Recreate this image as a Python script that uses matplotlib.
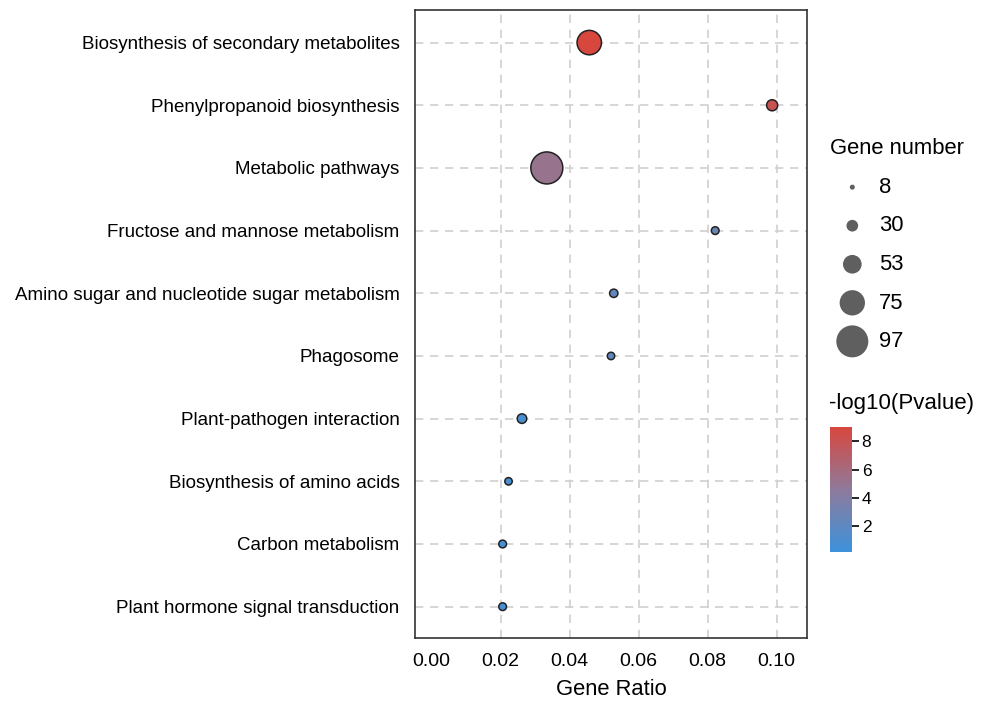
import matplotlib
matplotlib.use("Agg")
import matplotlib.pyplot as plt
from matplotlib.colors import LinearSegmentedColormap, Normalize
import numpy as np

plt.rcParams["font.family"] = ["Liberation Sans", "DejaVu Sans"]

# KEGG enrichment terms (top to bottom)
pathways = [
    "Biosynthesis of secondary metabolites",
    "Phenylpropanoid biosynthesis",
    "Metabolic pathways",
    "Fructose and mannose metabolism",
    "Amino sugar and nucleotide sugar metabolism",
    "Phagosome",
    "Plant-pathogen interaction",
    "Biosynthesis of amino acids",
    "Carbon metabolism",
    "Plant hormone signal transduction",
]
gene_ratio = [0.0457, 0.0987, 0.0334, 0.0822, 0.0528, 0.0520, 0.0262, 0.0223, 0.0206, 0.0206]
gene_number = [72, 28, 97, 17, 19, 16, 23, 16, 17, 17]
neg_log_p = [9.0, 8.0, 5.2, 2.6, 2.3, 2.1, 1.0, 1.0, 0.9, 0.9]

legend_sizes = [8, 30, 53, 75, 97]
x_ticks = [0.00, 0.02, 0.04, 0.06, 0.08, 0.10]
cbar_ticks = [2, 4, 6, 8]


def size_to_area(n):
    # diameter grows linearly from ~5px (n=8) to ~32px (n=97)
    d_px = 5 + (np.asarray(n) - 8) * 27 / 89
    d_pt = d_px * 0.72
    return d_pt ** 2


cmap = LinearSegmentedColormap.from_list("bluered", ["#3C92DC", "#8E7A9B", "#D8473E"])
norm = Normalize(vmin=0.2, vmax=9.0)

fig = plt.figure(figsize=(9.83, 7.03), dpi=100)
ax = fig.add_axes([415 / 983, 1 - 638 / 703, 392 / 983, 628 / 703])

y = np.arange(len(pathways))
ax.scatter(
    gene_ratio,
    y,
    s=size_to_area(gene_number),
    c=neg_log_p,
    cmap=cmap,
    norm=norm,
    edgecolors="#222222",
    linewidths=1.1,
    zorder=3,
)

ax.set_yticks(y)
ax.set_yticklabels(pathways, fontsize=13.5)
ax.set_ylim(len(pathways) - 0.5, -0.52)
ax.set_xticks(x_ticks)
ax.set_xticklabels([f"{t:.2f}" for t in x_ticks], fontsize=14)
ax.set_xlim(-0.0048, 0.1088)
ax.set_xlabel("Gene Ratio", fontsize=15.8, labelpad=6)
ax.tick_params(axis="y", length=0, pad=11)
ax.tick_params(axis="x", length=0, pad=11)
ax.grid(True, color="#d0d0d0", linestyle=(0, (5, 4)), linewidth=1.2, zorder=0)
ax.get_xgridlines()[0].set_visible(False)
ax.set_axisbelow(True)
for sp in ax.spines.values():
    sp.set_color("#333333")
    sp.set_linewidth(1.2)

# Gene number legend
handles = [
    ax.scatter([], [], s=size_to_area(n), color="#5f5f5f", edgecolors="none")
    for n in legend_sizes
]
leg = fig.legend(
    handles,
    [str(n) for n in legend_sizes],
    title="Gene number",
    loc="upper left",
    bbox_to_anchor=(815 / 983, 1 - 123 / 703),
    frameon=False,
    fontsize=15.8,
    title_fontsize=15.8,
    labelspacing=0.8,
    handletextpad=0.2,
    borderpad=0.2,
)
leg._legend_box.align = "left"

# colour bar
cax = fig.add_axes([830 / 983, 1 - 552 / 703, 22 / 983, 125 / 703])
sm = plt.cm.ScalarMappable(norm=norm, cmap=cmap)
cb = fig.colorbar(sm, cax=cax, ticks=cbar_ticks)
cb.outline.set_visible(False)
cb.ax.tick_params(labelsize=12.5, length=5, width=1.2, pad=2)
fig.text(829 / 983, 1 - 404 / 703, "-log10(Pvalue)", fontsize=16, va="center", ha="left")

fig.savefig("out.png", dpi=100)
